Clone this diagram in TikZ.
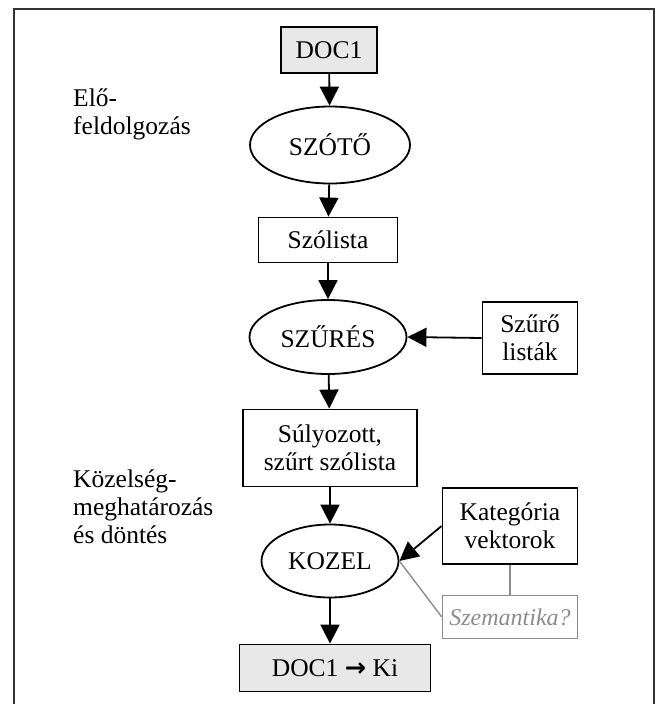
\documentclass[tikz,border=0pt]{standalone}
\usepackage{fontspec}
\setmainfont{Liberation Serif}
\usetikzlibrary{shapes.geometric,arrows.meta}
\begin{document}
\begin{tikzpicture}[x=1pt,y=-1pt,
  every node/.style={font=\fontsize{25.5}{28}\selectfont, inner sep=0pt, align=center},
  boxnode/.style={draw, line width=1.8pt, rectangle},
  greybox/.style={boxnode, fill=black!9},
  ovalnode/.style={draw, line width=1.8pt, ellipse},
  flow/.style={line width=1.8pt, -{Triangle[length=19pt,width=19pt]}},
  thinlink/.style={line width=1.4pt, draw=black!45},
  sidelabel/.style={anchor=base west, align=left}]
  \useasboundingbox (0,0) rectangle (656,704);
  % outer frame, open at the bottom
  \draw[line width=1.8pt, draw=black!80] (14,704) -- (14,9) -- (654,9) -- (654,704);

  % nodes
  \node[greybox, minimum width=96pt, minimum height=46pt] (doc) at (329,50) {DOC1};
  \node[ovalnode, minimum width=160pt, minimum height=77pt] (szoto) at (330,145) {SZÓTŐ};
  \node[boxnode, minimum width=139pt, minimum height=45pt] (szolista) at (328,240) {Szólista};
  \node[ovalnode, minimum width=157pt, minimum height=74pt] (szures) at (328,337) {SZŰRÉS};
  \node[boxnode, minimum width=95pt, minimum height=72pt] (szurolista) at (530,338) {Szűrő\\listák};
  \node[boxnode, minimum width=174pt, minimum height=77pt] (sulyozott) at (330,448) {Súlyozott,\\szűrt szólista};
  \node[ovalnode, minimum width=137pt, minimum height=73pt] (kozel) at (330,561) {KOZEL};
  \node[boxnode, minimum width=135pt, minimum height=76pt] (kategoria) at (510,526) {Kategória\\vektorok};
  \node[boxnode, draw=black!45, line width=1.4pt, minimum width=135pt, minimum height=43pt,
        text=black!45, font=\fontsize{24}{28}\selectfont\itshape] (szemantika) at (510,617) {Szemantika?};
  \node[greybox, minimum width=191pt, minimum height=47pt] (ki) at (335,668) {DOC1 {\fontspec{DejaVu Sans}\bfseries →} Ki};

  % side labels, anchored on the baseline of their last line
  \node[sidelabel] (elo) at (73,134) {Elő-\\feldolgozás};
  \node[sidelabel] (kozelseg) at (73,543) {Közelség-\\meghatározás\\és döntés};

  % connectors
  \draw[flow] (doc) -- (szoto);
  \draw[flow] (szoto) -- (szolista);
  \draw[flow] (szolista) -- (szures);
  \draw[flow] (szurolista.west) -- (szures.east);
  \draw[flow] (szures) -- (sulyozott);
  \draw[flow] (sulyozott) -- (kozel);
  \draw[flow] (kategoria.west) -- (kozel.east);
  \draw[flow] (kozel.south) -- (ki.north -| kozel.south);
  \draw[thinlink] (kategoria.south) -- (szemantika.north);
  \draw[thinlink] (kozel.east) -- (szemantika.west);
\end{tikzpicture}
\end{document}
